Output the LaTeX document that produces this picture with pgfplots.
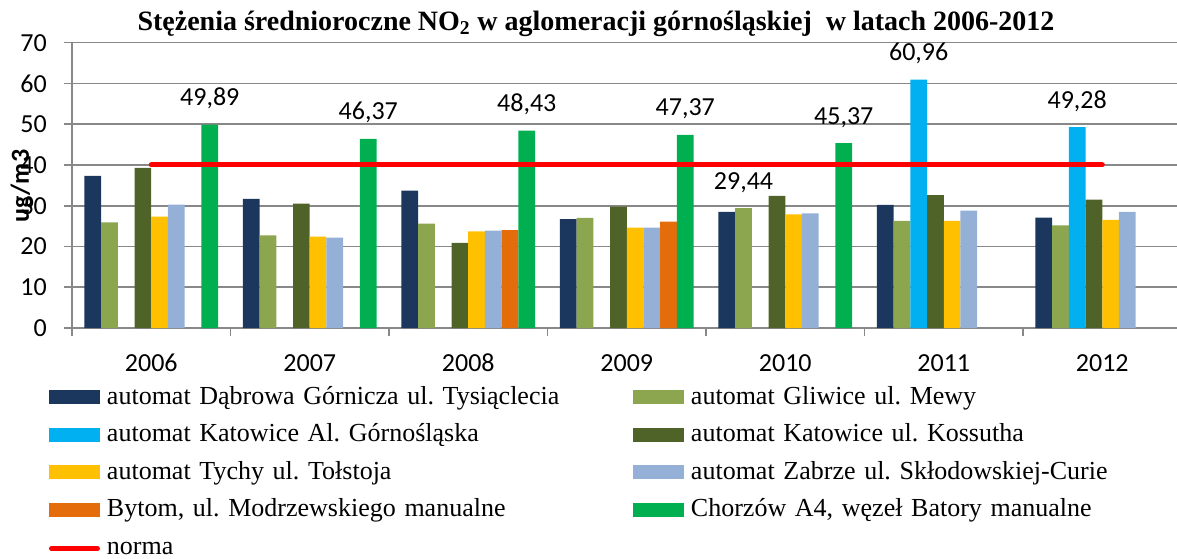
\documentclass[border=0pt]{standalone}
\usepackage{fontspec}
\setmainfont{Liberation Serif}
\newfontfamily\carlito{Carlito}
\usepackage{pgfplots}
\pgfplotsset{compat=1.18}
\frenchspacing

\definecolor{cDab}{HTML}{1B375E}
\definecolor{cGli}{HTML}{8BA64F}
\definecolor{cKal}{HTML}{00B0F0}
\definecolor{cKos}{HTML}{4F6228}
\definecolor{cTyc}{HTML}{FFC000}
\definecolor{cZab}{HTML}{95B0D6}
\definecolor{cByt}{HTML}{E46C0A}
\definecolor{cCho}{HTML}{00B050}
\definecolor{cGrid}{HTML}{888888}

\newcommand{\lab}{\carlito\fontsize{19.5}{22}\selectfont}

\pgfplotsset{
  sw/.style={fill=#1, draw=none,
    legend image code/.code={\fill[##1] (0pt,0pt) rectangle (38.25pt,10.5pt);}},
  normleg/.style={legend image code/.code={\draw[##1] (1.9pt,4pt) -- (36.35pt,4pt);}},
  lbl/.style={point meta=explicit symbolic, nodes near coords,
    nodes near coords style={font=\lab, anchor=base, inner sep=0pt, yshift=14.25pt, text=black}},
}

\begin{document}
\begin{tikzpicture}
\useasboundingbox (-54pt,-172.5pt) rectangle (828.75pt,246pt);
\begin{axis}[
  at={(0pt,0pt)}, anchor=south west,
  scale only axis, width=832.125pt, height=214pt,
  ybar, bar width=0.1054,
  xmin=-0.5, xmax=6.5, ymin=0, ymax=70,
  xtick={-0.5,0.5,...,6.5}, x tick label as interval,
  xticklabels={2006,2007,2008,2009,2010,2011,2012},
  ytick={0,10,...,70},
  ymajorgrids, grid style={cGrid, line width=1.2pt},
  axis x line*=bottom, axis y line*=left,
  axis line style={cGrid, line width=1.2pt},
  tick align=outside, major tick length=6pt,
  tick style={cGrid, line width=1.2pt},
  ticklabel style={font=\lab, inner sep=0pt},
  yticklabel style={xshift=-12.75pt},
  xticklabel style={anchor=north, text height=13pt, text depth=0pt, yshift=-13.5pt},
  /pgf/number format/assume math mode=true,
  legend columns=2,
  legend style={
    at={(axis description cs:-0.02073,-0.2056)}, anchor=north west,
    draw=none, fill=none, inner sep=0pt, outer sep=0pt,
    column sep=5.25pt, row sep=10.625pt,
    font=\fontsize{19.5}{22}\selectfont,
    nodes={inner sep=0pt, text height=13pt, text depth=4.5pt,
           text width=389.25pt, align=left, anchor=base west},
  },
]
\addplot[sw=cDab, bar shift=-0.369] coordinates {(0,37.3) (1,31.7) (2,33.7) (3,26.7) (4,28.5) (5,30.2) (6,27.1)};
\addlegendentry{automat Dąbrowa Górnicza ul. Tysiąclecia}
\addplot[sw=cGli, bar shift=-0.2635, lbl] coordinates {(0,25.9) [] (1,22.7) [] (2,25.6) [] (3,27.0) [] (4,29.44) [29,44] (5,26.3) [] (6,25.2) []};
\addlegendentry{automat Gliwice ul. Mewy}
\addplot[sw=cKal, bar shift=-0.158, lbl] coordinates {(5,60.96) [60,96] (6,49.28) [49,28]};
\addlegendentry{automat Katowice Al. Górnośląska}
\addplot[sw=cKos, bar shift=-0.0527] coordinates {(0,39.3) (1,30.5) (2,20.9) (3,29.8) (4,32.4) (5,32.6) (6,31.5)};
\addlegendentry{automat Katowice ul. Kossutha}
\addplot[sw=cTyc, bar shift=0.0527] coordinates {(0,27.3) (1,22.4) (2,23.7) (3,24.6) (4,27.9) (5,26.3) (6,26.5)};
\addlegendentry{automat Tychy ul. Tołstoja}
\addplot[sw=cZab, bar shift=0.158] coordinates {(0,30.3) (1,22.2) (2,23.9) (3,24.6) (4,28.1) (5,28.8) (6,28.5)};
\addlegendentry{automat Zabrze ul. Skłodowskiej-Curie}
\addplot[sw=cByt, bar shift=0.2635] coordinates {(2,24.0) (3,26.1)};
\addlegendentry{Bytom, ul. Modrzewskiego manualne}
\addplot[sw=cCho, bar shift=0.369, lbl] coordinates {(0,49.89) [49,89] (1,46.37) [46,37] (2,48.43) [48,43] (3,47.37) [47,37] (4,45.37) [45,37]};
\addlegendentry{Chorzów A4, węzeł Batory manualne}
\addplot[sharp plot, color=red, line width=3.75pt, line cap=round, mark=none, normleg]
  coordinates {(0,40) (6,40)};
\addlegendentry{norma}
\end{axis}
\node[font=\bfseries\fontsize{21}{24}\selectfont, anchor=base] at (393pt,223.5pt)
  {Stężenia średnioroczne NO\textsubscript{2} w aglomeracji górnośląskiej~ w latach 2006-2012};
\node[font=\carlito\bfseries\fontsize{19.5}{22}\selectfont, rotate=90] at (-37.5pt,106.5pt) {ug/m3};
\end{tikzpicture}
\end{document}
